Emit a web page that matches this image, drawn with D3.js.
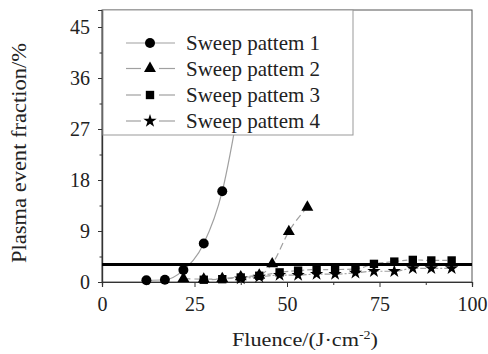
<!DOCTYPE html>
<html>
<head>
<meta charset="utf-8">
<script src="https://cdn.jsdelivr.net/npm/d3@7"></script>
<style>
  html, body { margin: 0; padding: 0; background: #fff; }
  svg { display: block; }
  svg text { font-family: "Liberation Serif", "Tinos", "DejaVu Serif", "Noto Serif", serif !important; }
</style>
</head>
<body>
<svg id="chart" width="488" height="354"></svg>
<script>
// Plasma event fraction versus laser fluence for four sweep patterns
const seriesNames = ["Sweep pattem 1", "Sweep pattem 2", "Sweep pattem 3", "Sweep pattem 4"];

const fluence1 = [12, 17, 22, 27.5, 32.5, 37.5];
const fraction1 = [0.3, 0.4, 2.1, 6.8, 16.0, 33.0];

const fluence2 = [22, 27.5, 32.5, 37.5, 42.5, 46, 50.5, 55.5];
const fraction2 = [0.6, 0.5, 0.6, 0.9, 1.2, 3.2, 8.9, 13.2];

const fluence3 = [27.5, 32.5, 37.5, 42.5, 48, 53, 58, 63, 68.5, 73.5, 79, 84, 89, 94.5];
const fraction3 = [0.4, 0.5, 0.8, 1.1, 1.7, 2.0, 2.2, 2.2, 2.3, 3.2, 3.6, 3.9, 3.8, 3.8];

const fluence4 = [37.5, 42.5, 48, 53, 58, 63, 68.5, 73.5, 79, 84, 89, 94.5];
const fraction4 = [0.6, 0.9, 1.2, 1.2, 1.4, 1.4, 1.6, 1.9, 1.9, 2.4, 2.4, 2.4];

const thresholdLevel = 3.1;

const xTicks = [0, 25, 50, 75, 100];
const yTicks = [0, 9, 18, 27, 36, 45];

const svg = d3.select("#chart");
const plotLeft = 102, plotRight = 472, plotTop = 10, plotBottom = 282;

const x = d3.scaleLinear().domain([0, 100]).range([plotLeft, plotRight]);
const y = d3.scaleLinear().domain([0, 48]).range([plotBottom, plotTop]);

const series = [
  { name: seriesNames[0], xs: fluence1, ys: fraction1, symbol: d3.symbolCircle, size: 78, dash: null },
  { name: seriesNames[1], xs: fluence2, ys: fraction2, symbol: d3.symbolTriangle, size: 62, dash: "7,4" },
  { name: seriesNames[2], xs: fluence3, ys: fraction3, symbol: d3.symbolSquare, size: 70, dash: "5,3" },
  { name: seriesNames[3], xs: fluence4, ys: fraction4, symbol: d3.symbolStar, size: 55, dash: "6,2,2,2" }
];

// Plot frame
svg.append("rect")
  .attr("x", plotLeft).attr("y", plotTop)
  .attr("width", plotRight - plotLeft).attr("height", plotBottom - plotTop)
  .attr("fill", "none").attr("stroke", "#555").attr("stroke-width", 1);

// Axes
const xAxis = d3.axisBottom(x).tickValues(xTicks).tickSize(5).tickPadding(10);
const xMinor = d3.axisBottom(x).tickValues(d3.range(12.5, 100, 25)).tickSize(3).tickFormat("");
const yAxis = d3.axisLeft(y).tickValues(yTicks).tickSize(4).tickPadding(8);
const yMinor = d3.axisLeft(y).tickValues(d3.range(4.5, 48, 9)).tickSize(2.5).tickFormat("");

function styleAxis(g) {
  g.attr("font-family", null);
  g.selectAll("path").attr("stroke", "#333").attr("stroke-width", 1.2);
  g.selectAll("line").attr("stroke", "#333");
  g.selectAll("text").attr("font-size", 20).attr("fill", "#222");
}

svg.append("g").attr("transform", `translate(0,${plotBottom})`).call(xAxis).call(styleAxis);
svg.append("g").attr("transform", `translate(0,${plotBottom})`).call(xMinor).call(styleAxis);
svg.append("g").attr("transform", `translate(${plotLeft},0)`).call(yAxis).call(styleAxis);
svg.append("g").attr("transform", `translate(${plotLeft},0)`).call(yMinor).call(styleAxis);

// Axis titles
svg.append("text")
  .attr("transform", `translate(26,${(43 + 263) / 2}) rotate(-90)`)
  .attr("text-anchor", "middle")
  .attr("font-size", 20)
  .attr("fill", "#222")
  .attr("textLength", 220)
  .attr("lengthAdjust", "spacingAndGlyphs")
  .text("Plasma event fraction/%");

const xTitle = svg.append("text")
  .attr("x", 232).attr("y", 346)
  .attr("font-size", 19)
  .attr("fill", "#222")
  .attr("textLength", 146)
  .attr("lengthAdjust", "spacingAndGlyphs");
xTitle.append("tspan").text("Fluence/(J·cm");
xTitle.append("tspan").attr("dy", -7).attr("font-size", 12).text("-2");
xTitle.append("tspan").attr("dy", 7).text(")");

// Data lines and markers
const line = d3.line().curve(d3.curveMonotoneX);

series.forEach(s => {
  const pts = s.xs.map((v, i) => [x(v), y(s.ys[i])]);
  svg.append("path")
    .attr("d", line(pts))
    .attr("fill", "none")
    .attr("stroke", "#a0a0a0")
    .attr("stroke-width", 1.2)
    .attr("stroke-dasharray", s.dash);
});

// Threshold level
svg.append("line")
  .attr("x1", x(0)).attr("x2", x(100))
  .attr("y1", y(thresholdLevel)).attr("y2", y(thresholdLevel))
  .attr("stroke", "#000").attr("stroke-width", 3);

series.slice().reverse().forEach(s => {
  const sym = d3.symbol().type(s.symbol).size(s.size);
  svg.append("g").selectAll("path")
    .data(s.xs.map((v, i) => [v, s.ys[i]]))
    .join("path")
    .attr("transform", d => `translate(${x(d[0])},${y(d[1])})`)
    .attr("d", sym)
    .attr("fill", "#000");
});

// Legend
const legend = svg.append("g");
legend.append("rect")
  .attr("x", 103).attr("y", 10)
  .attr("width", 250).attr("height", 125)
  .attr("fill", "#fff").attr("stroke", "#999").attr("stroke-width", 1);

const rowY = [43, 68.5, 95, 121];
series.forEach((s, i) => {
  const cy = rowY[i];
  if (s.dash === null) {
    legend.append("line").attr("x1", 126).attr("x2", 175).attr("y1", cy).attr("y2", cy)
      .attr("stroke", "#a0a0a0").attr("stroke-width", 1.2);
  } else {
    legend.append("line").attr("x1", 126).attr("x2", 141).attr("y1", cy).attr("y2", cy)
      .attr("stroke", "#a0a0a0").attr("stroke-width", 1.2);
    legend.append("line").attr("x1", 159).attr("x2", 175).attr("y1", cy).attr("y2", cy)
      .attr("stroke", "#a0a0a0").attr("stroke-width", 1.2);
  }
  legend.append("path")
    .attr("transform", `translate(150,${cy})`)
    .attr("d", d3.symbol().type(s.symbol).size(s.size)())
    .attr("fill", "#000");
  legend.append("text")
    .attr("x", 186).attr("y", cy + 7)
    .attr("font-size", 21)
    .attr("fill", "#222")
    .attr("textLength", 134)
    .attr("lengthAdjust", "spacingAndGlyphs")
    .text(s.name);
});
</script>
</body>
</html>
